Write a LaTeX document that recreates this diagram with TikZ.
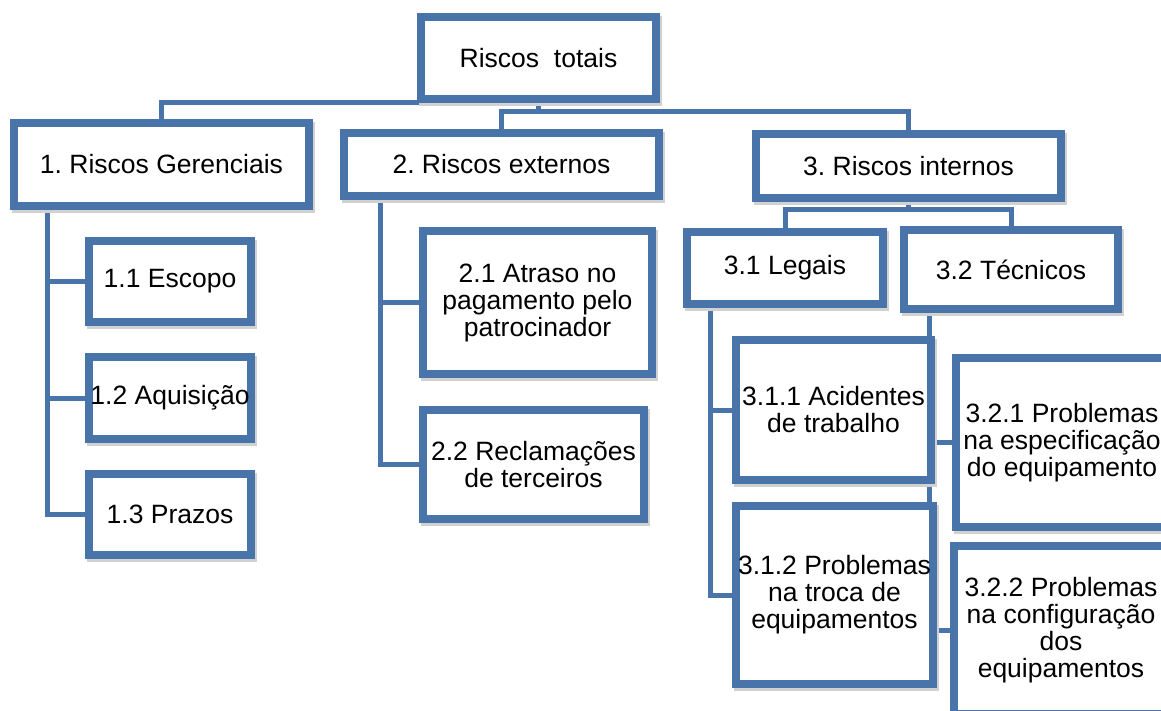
\documentclass[tikz,border=0pt]{standalone}
\usepackage{fontspec}
\setmainfont{Liberation Sans}
\usetikzlibrary{calc,backgrounds,shadows}
\definecolor{bc}{RGB}{72,116,170}
\tikzset{
  box/.style={draw=bc, line width=8pt, fill=white, rectangle, inner sep=0pt, outer sep=0pt,
    drop shadow={shadow xshift=1.5pt, shadow yshift=-3pt, fill=black!18, draw=black!18, line width=8pt, opacity=1}},
  txt/.style={font=\fontsize{26.5}{27}\selectfont\frenchspacing, align=center, inner sep=0pt, text=black},
  conn/.style={draw=bc, line width=5pt}
}
\newcommand\mkbox[6]{%
  \node[box, minimum width={#4-#2-8}, minimum height={#5-#3-8}] (#1) at ({(#2+#4)/2},{(#3+#5)/2}) {};
  \node[txt] (#1t) at (#1.center) {#6};}
\begin{document}
\frenchspacing
\begin{tikzpicture}[x=1pt,y=-1pt]
\useasboundingbox (0,0) rectangle (1161,711);
\begin{pgfonlayer}{background}
\fill[white] (0,0) rectangle (1161,711);
\end{pgfonlayer}
\clip (0,0) rectangle (1161,711);
\mkbox{rt}{417}{13}{660}{103}{Riscos~ totais}
\mkbox{b1}{10}{119}{313}{210}{1. Riscos Gerenciais}
\mkbox{b2}{340}{129}{663}{200}{2. Riscos externos}
\mkbox{b3}{752}{130}{1065}{202}{3. Riscos internos}
\mkbox{b11}{85}{237}{255}{326}{1.1 Escopo}
\mkbox{b12}{85}{353}{255}{443}{1.2 Aquisição}
\mkbox{b13}{85}{470}{255}{559}{1.3 Prazos}
\mkbox{b21}{419}{227}{656}{378}{2.1 Atraso no\\pagamento pelo\\patrocinador}
\mkbox{b22}{419}{406}{648}{523}{2.2 Reclamações\\de terceiros}
\mkbox{b31}{683}{228}{887}{308}{3.1 Legais}
\mkbox{b32}{900}{226}{1122}{313}{3.2 Técnicos}
\mkbox{b311}{732}{336}{935}{484}{3.1.1 Acidentes\\de trabalho}
\mkbox{b312}{732}{502}{937}{688}{3.1.2 Problemas\\na troca de\\equipamentos}
\mkbox{b321}{952}{354}{1172}{531}{3.2.1 Problemas\\na especificação\\do equipamento}
\mkbox{b322}{950}{542}{1172}{718}{3.2.2 Problemas\\na configuração\\dos\\equipamentos}
\coordinate (j1) at ($(rt.south)+(0,4)$);
\coordinate (j2) at ($(rt.south)+(0,13)$);
\coordinate (j3) at ($(b3.south)+(0,12)$);
\coordinate (t1) at ($(b1.south west)+(33,0)$);
\coordinate (t2) at ($(b2.south west)+(36,0)$);
\coordinate (t31) at ($(b31.south west)+(23,0)$);
\coordinate (t32) at ($(b32.south west)+(25,0)$);
\begin{pgfonlayer}{background}
\draw[conn] (rt.south) -- (j2);
\draw[conn] (j1) -| (b1.north);
\draw[conn] (j2) -| (b2.north);
\draw[conn] (j2) -| (b3.north);
\draw[conn] (b3.south) -- (j3);
\draw[conn] (j3) -| (b31.north);
\draw[conn] (j3) -| (b32.north);
\draw[conn] (t1) |- (b13.west);
\draw[conn] (t1 |- b11.west) -- (b11.west);
\draw[conn] (t1 |- b12.west) -- (b12.west);
\draw[conn] (t2) |- (b22.west);
\draw[conn] (t2 |- b21.west) -- (b21.west);
\draw[conn] (t31) |- (b312.west);
\draw[conn] (t31 |- b311.west) -- (b311.west);
\draw[conn] (t32) |- (b322.west);
\draw[conn] (t32 |- b321.west) -- (b321.west);
\end{pgfonlayer}
\end{tikzpicture}
\end{document}
